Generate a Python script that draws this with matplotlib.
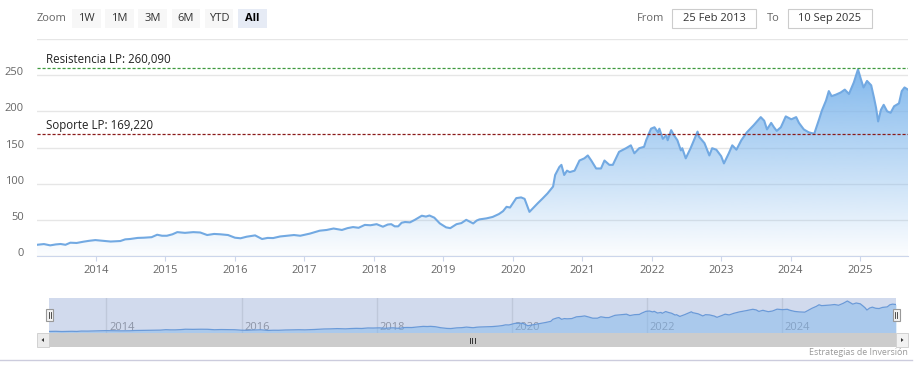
import numpy as np
import matplotlib
matplotlib.use("Agg")
import matplotlib.pyplot as plt
import matplotlib.transforms as mtransforms
from matplotlib.patches import Rectangle, Polygon

plt.rcParams['font.family'] = ['Open Sans', 'DejaVu Sans']

# price series (decimal years)
years = [
    2013.15, 2013.25, 2013.34, 2013.42, 2013.49, 2013.56, 2013.63, 2013.72, 2013.82, 2013.90,
    2013.99, 2014.10, 2014.21, 2014.35, 2014.42, 2014.49, 2014.60, 2014.69, 2014.80, 2014.88,
    2014.95, 2015.02, 2015.10, 2015.17, 2015.28, 2015.40, 2015.50, 2015.60, 2015.70, 2015.79,
    2015.90, 2016.00, 2016.08, 2016.17, 2016.29, 2016.39, 2016.47, 2016.55, 2016.65, 2016.75,
    2016.85, 2016.94, 2017.08, 2017.22, 2017.32, 2017.42, 2017.54, 2017.62, 2017.70, 2017.78,
    2017.87, 2017.95, 2018.04, 2018.13, 2018.20, 2018.25, 2018.30, 2018.35, 2018.40, 2018.45,
    2018.52, 2018.59, 2018.69, 2018.75, 2018.80, 2018.87, 2018.95, 2019.04, 2019.10, 2019.19,
    2019.26, 2019.33, 2019.43, 2019.48, 2019.52, 2019.62, 2019.71, 2019.80, 2019.86, 2019.91,
    2019.96, 2020.05, 2020.12, 2020.17, 2020.24, 2020.29, 2020.36, 2020.43, 2020.50, 2020.58,
    2020.61, 2020.67, 2020.70, 2020.74, 2020.78, 2020.82, 2020.89, 2020.96, 2021.03, 2021.08,
    2021.13, 2021.20, 2021.27, 2021.32, 2021.39, 2021.44, 2021.53, 2021.63, 2021.70, 2021.75,
    2021.82, 2021.89, 2021.92, 2021.99, 2022.04, 2022.09, 2022.11, 2022.16, 2022.21, 2022.23,
    2022.28, 2022.32, 2022.37, 2022.42, 2022.44, 2022.49, 2022.56, 2022.66, 2022.68, 2022.76,
    2022.83, 2022.87, 2022.93, 2023.00, 2023.04, 2023.11, 2023.16, 2023.22, 2023.29, 2023.37,
    2023.47, 2023.57, 2023.62, 2023.66, 2023.72, 2023.76, 2023.80, 2023.86, 2023.93, 2024.01,
    2024.08, 2024.12, 2024.19, 2024.26, 2024.34, 2024.41, 2024.45, 2024.51, 2024.55, 2024.59,
    2024.65, 2024.72, 2024.78, 2024.84, 2024.91, 2024.97, 2025.01, 2025.05, 2025.10, 2025.16,
    2025.20, 2025.23, 2025.26, 2025.30, 2025.34, 2025.39, 2025.44, 2025.49, 2025.56, 2025.60,
    2025.64, 2025.69,
]
prices = [
    15.5, 16.5, 14.7, 16.0, 16.6, 15.5, 18.4, 18.0, 19.8, 21.0,
    22.0, 21.0, 20.0, 20.7, 23.0, 23.5, 25.0, 25.3, 26.0, 29.4,
    28.0, 28.0, 30.0, 33.0, 32.0, 33.0, 32.5, 29.0, 30.5, 30.0,
    29.0, 25.3, 24.5, 26.7, 28.5, 23.5, 25.0, 24.8, 27.0, 28.0,
    29.0, 28.0, 31.0, 35.0, 36.0, 38.0, 36.0, 38.5, 40.0, 39.0,
    43.0, 42.5, 44.0, 40.5, 43.5, 44.0, 41.0, 41.0, 46.0, 47.0,
    46.5, 50.0, 55.7, 54.5, 56.0, 53.0, 45.0, 39.6, 38.5, 44.0,
    45.5, 50.0, 45.0, 49.0, 50.6, 52.0, 54.0, 58.0, 62.0, 68.0,
    67.0, 80.0, 81.0, 79.0, 61.0, 66.0, 73.0, 79.6, 86.5, 96.0,
    112.0, 123.0, 126.0, 112.0, 118.0, 116.0, 118.0, 132.0, 135.0, 139.0,
    132.0, 121.0, 121.0, 132.0, 126.0, 126.0, 144.0, 149.0, 153.0, 142.0,
    149.0, 151.0, 160.0, 176.0, 178.0, 171.0, 176.0, 162.0, 167.0, 160.0,
    174.0, 167.0, 160.0, 146.0, 149.0, 135.0, 149.0, 172.0, 165.0, 156.0,
    139.0, 149.0, 147.0, 138.0, 128.0, 142.0, 153.0, 147.0, 160.0, 171.0,
    181.0, 192.0, 187.0, 175.0, 184.0, 178.0, 173.0, 178.0, 193.0, 189.0,
    192.0, 184.0, 175.0, 171.0, 169.0, 189.0, 201.0, 215.0, 228.0, 221.0,
    223.0, 226.0, 230.0, 224.0, 240.0, 258.0, 245.0, 233.0, 242.0, 236.0,
    219.0, 205.0, 186.0, 202.0, 209.0, 200.0, 198.0, 207.0, 211.0, 228.0,
    233.0, 230.0,
]

year_ticks = list(range(2014, 2026))
nav_year_ticks = [2014, 2016, 2018, 2020, 2022, 2024]
y_ticks = [0, 50, 100, 150, 200, 250, 300]
resistance = 260.09
support = 169.22
resistance_label = "Resistencia LP: 260,090"
support_label = "Soporte LP: 169,220"
zoom_buttons = ["1W", "1M", "3M", "6M", "YTD", "All"]
date_from = "25 Feb 2013"
date_to = "10 Sep 2025"
credits = "Estrategias de Inversión"

W, H = 918, 372
fig = plt.figure(figsize=(W / 100, H / 100), dpi=100)
fig.patch.set_facecolor("white")


def px_axes(x0, y0, x1, y1):
    # pixel box with origin at top-left
    return fig.add_axes([x0 / W, 1 - y1 / H, (x1 - x0) / W, (y1 - y0) / H])


x = np.array(years)
y = np.array(prices)

# ---- main chart
ax = px_axes(37, 39, 908, 256)
ax.set_xlim(x.min(), x.max())
ax.set_ylim(0, 300)
for s in ["top", "right", "left"]:
    ax.spines[s].set_visible(False)
ax.spines["bottom"].set_color("#ccd6eb")
ax.set_yticks(y_ticks)
ax.set_yticklabels([str(v) if v < 300 else "" for v in y_ticks])
ax.tick_params(axis="y", length=0, pad=9.5, labelsize=8, labelcolor="#666666")
ax.grid(axis="y", color="#e6e6e6", lw=1)
ax.set_axisbelow(True)
shift = mtransforms.ScaledTranslation(0, 4 / 100, fig.dpi_scale_trans)
for lab in ax.get_yticklabels():
    lab.set_transform(lab.get_transform() + shift)
ax.set_xticks(year_ticks)
ax.set_xticklabels([str(v) for v in year_ticks])
ax.tick_params(axis="x", length=3.6, color="#ccd6eb", pad=3, labelsize=8, labelcolor="#666666")

# gradient area
rgba = np.zeros((256, 1, 4))
rgba[..., 0] = 124 / 255
rgba[..., 1] = 181 / 255
rgba[..., 2] = 236 / 255
rgba[..., 3] = np.linspace(0.02, 0.95, 256).reshape(-1, 1)
img = ax.imshow(rgba, extent=[x.min(), x.max(), 0, y.max()], origin="lower",
                aspect="auto", zorder=1, interpolation="bilinear")
verts = [(x[0], 0)] + list(zip(x, y)) + [(x[-1], 0)]
clip = Polygon(verts, closed=True, facecolor="none", edgecolor="none")
ax.add_patch(clip)
img.set_clip_path(clip)
ax.plot(x, y, color="#72a9e2", lw=1.5, zorder=3)

# support / resistance
ax.axhline(resistance, color="#3f9a3f", ls=(0, (2.5, 1.5)), lw=0.9, zorder=4)
ax.axhline(support, color="#8b1a1a", ls=(0, (2.5, 1.5)), lw=0.9, zorder=4)
for val, txt in [(resistance, resistance_label), (support, support_label)]:
    ax.annotate(txt, xy=(0, val), xycoords=("axes fraction", "data"),
                xytext=(9, 2), textcoords="offset pixels", va="bottom", ha="left",
                fontsize=8.3, color="#222222", zorder=5)

# ---- navigator
nav = px_axes(49, 298, 896, 333)
nav.set_xlim(x.min(), x.max())
nav.set_ylim(3, 282)
nav.set_facecolor("#d1daed")
for s in nav.spines.values():
    s.set_visible(False)
nav.set_xticks([])
nav.set_yticks([])
for yr in nav_year_ticks:
    nav.axvline(yr, color="#bfc8da", lw=1, zorder=1)
    nav.annotate(str(yr), xy=(yr, 0), xycoords=("data", "axes fraction"),
                 xytext=(3, 0), textcoords="offset pixels", ha="left", va="bottom",
                 fontsize=8, color="#8c94a6", zorder=2)
nav.fill_between(x, y, 3, color="#7cb5ec", alpha=0.45, lw=0, zorder=3)
nav.plot(x, y, color="#6a9ad8", lw=0.9, zorder=4)

# ---- overlay in pixel coordinates for the controls
ov = fig.add_axes([0, 0, 1, 1])
ov.set_xlim(0, W)
ov.set_ylim(H, 0)
ov.axis("off")
ov.patch.set_alpha(0)

# range selector
ov.text(37, 18.5, "Zoom", ha="left", va="center", fontsize=8, color="#666666")
for i, b in enumerate(zoom_buttons):
    bx = 72 + i * 33.2
    sel = b == "All"
    ov.add_patch(Rectangle((bx, 9), 28.5, 19, facecolor="#e6ebf5" if sel else "#f7f7f7",
                           edgecolor="none"))
    ov.text(bx + 14.25, 18.5, b, ha="center", va="center", fontsize=8,
            color="#000000" if sel else "#333333", fontweight="bold" if sel else "normal")

ov.text(664, 18.5, "From", ha="right", va="center", fontsize=8, color="#666666")
ov.add_patch(Rectangle((672, 9), 84, 19, facecolor="white", edgecolor="#cccccc", lw=0.8))
ov.text(714, 18.5, date_from, ha="center", va="center", fontsize=8, color="#333333")
ov.text(780, 18.5, "To", ha="right", va="center", fontsize=8, color="#666666")
ov.add_patch(Rectangle((788, 9), 84, 19, facecolor="white", edgecolor="#cccccc", lw=0.8))
ov.text(830, 18.5, date_to, ha="center", va="center", fontsize=8, color="#333333")

# navigator handles
for hx in [49.5, 896]:
    ov.add_patch(Rectangle((hx - 3.5, 309), 7, 12, facecolor="#f2f2f2",
                           edgecolor="#999999", lw=0.8, zorder=5))
    for dx in [-1, 1]:
        ov.plot([hx + dx, hx + dx], [312, 318], color="#333333", lw=0.6, zorder=6)

# scrollbar
ov.add_patch(Rectangle((49, 333), 847, 14, facecolor="#cccccc", edgecolor="none"))
ov.add_patch(Rectangle((37, 333), 12, 14, facecolor="#ebebeb", edgecolor="#cccccc", lw=0.6))
ov.add_patch(Rectangle((896, 333), 12, 14, facecolor="#f2f2f2", edgecolor="#cccccc", lw=0.6))
ov.add_patch(Polygon([(41.5, 340), (44, 338), (44, 342)], closed=True, facecolor="#333333"))
ov.add_patch(Polygon([(903.5, 340), (901, 338), (901, 342)], closed=True, facecolor="#333333"))
for gx in [469.5, 472, 474.5]:
    ov.plot([gx, gx], [338, 342.5], color="#333333", lw=0.7)

# footer
ov.plot([0, 912], [360, 360], color="#ccccdd", lw=1)
ov.text(908, 352.5, credits, ha="right", va="center", fontsize=6.4, color="#999999")

fig.savefig("out.png", dpi=100, facecolor="white")
